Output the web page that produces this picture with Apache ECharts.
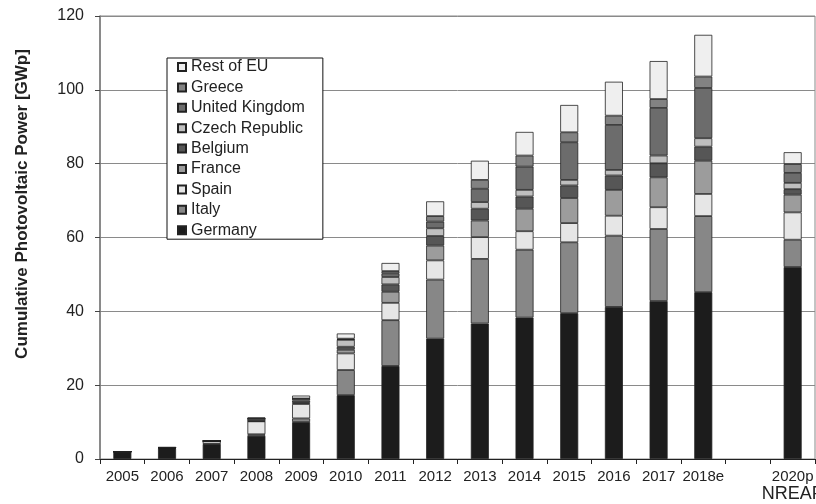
<!DOCTYPE html>
<html>
<head>
<meta charset="utf-8">
<script src="https://cdn.jsdelivr.net/npm/echarts@6/dist/echarts.min.js"></script>
<style>html,body{margin:0;padding:0;background:#fff;overflow:hidden}#c{width:816px;height:504px}</style>
</head>
<body>
<div id="c"></div>
<script>
const categories = ['2005','2006','2007','2008','2009','2010','2011','2012','2013','2014','2015','2016','2017','2018e','','2020p NREAP'];
const germany = [1.9, 2.9, 4.0, 6.3, 10.0, 17.3, 25.2, 32.6, 36.7, 38.3, 39.5, 41.2, 42.8, 45.2, null, 52.0];
const italy   = [0.05, 0.05, 0.1, 0.4, 1.0, 6.8, 12.4, 16.0, 17.5, 18.4, 19.2, 19.3, 19.5, 20.6, null, 7.4];
const spain   = [0.05, 0.15, 0.7, 3.5, 3.9, 4.5, 4.7, 5.2, 5.9, 5.0, 5.2, 5.4, 5.9, 6.0, null, 7.4];
const france  = [0, 0, 0.05, 0.1, 0.3, 1.0, 3.0, 4.0, 4.5, 6.1, 6.8, 7.0, 8.1, 9.0, null, 4.8];
const belgium = [0, 0, 0.02, 0.1, 0.6, 0.8, 2.0, 2.6, 3.2, 3.3, 3.4, 3.9, 3.8, 3.8, null, 1.5];
const czech   = [0, 0, 0.01, 0.5, 0.5, 1.9, 2.0, 2.1, 1.8, 1.8, 1.5, 1.5, 2.1, 2.3, null, 1.7];
const uk      = [0, 0, 0.01, 0.02, 0.03, 0.1, 1.0, 1.8, 3.6, 6.3, 10.2, 12.2, 12.9, 13.6, null, 2.7];
const greece  = [0, 0, 0.01, 0.05, 0.05, 0.2, 0.6, 1.5, 2.4, 3.0, 2.7, 2.5, 2.4, 3.1, null, 2.4];
const restEU  = [0.05, 0.1, 0.2, 0.3, 0.8, 1.4, 2.2, 4.0, 5.2, 6.4, 7.4, 9.2, 10.3, 11.3, null, 3.2];
const yTicks = [0, 20, 40, 60, 80, 100, 120];

const seriesDefs = [
  ['Germany', germany, '#1c1c1c'],
  ['Italy', italy, '#878787'],
  ['Spain', spain, '#e6e6e6'],
  ['France', france, '#9c9c9c'],
  ['Belgium', belgium, '#565656'],
  ['Czech Republic', czech, '#bfbfbf'],
  ['United Kingdom', uk, '#6c6c6c'],
  ['Greece', greece, '#828282'],
  ['Rest of EU', restEU, '#efefef']
];

const chart = echarts.init(document.getElementById('c'));
chart.setOption({
  animation: false,
  backgroundColor: '#fff',
  grid: { left: 100, right: 1, top: 16, bottom: 45, show: true, borderColor: '#888', borderWidth: 1,
          containLabel: false, outerBoundsMode: 'none' },
  legend: {
    orient: 'vertical', left: 167, top: 58,
    data: seriesDefs.map(s => s[0]).reverse(),
    backgroundColor: '#fff', borderColor: '#111', borderWidth: 1,
    padding: [1, 18, 1, 10],
    itemWidth: 8, itemHeight: 8, itemGap: 4.4,
    icon: 'rect',
    textStyle: { fontFamily: 'Liberation Sans, Arial', fontSize: 16, color: '#222', lineHeight: 16 }
  },
  xAxis: {
    type: 'category', data: categories,
    axisLine: { lineStyle: { color: '#222', width: 1.2 } },
    axisTick: { show: true, inside: false, length: 5, interval: 0, lineStyle: { color: '#222' } },
    axisLabel: {
      interval: 0, margin: 10, color: '#222', fontFamily: 'Liberation Sans, Arial', fontSize: 15,
      hideOverlap: false,
      formatter: v => v.indexOf('NREAP') >= 0 ? v.split(' ')[0] + '\n{b|' + v.split(' ')[1] + '}' : v,
      rich: { b: { fontSize: 18, fontFamily: 'Liberation Sans, Arial', color: '#222', lineHeight: 20, padding: [1, 0, 0, 0] } }
    }
  },
  yAxis: {
    type: 'value', min: yTicks[0], max: yTicks[yTicks.length - 1], interval: 20,
    axisLine: { show: true, lineStyle: { color: '#777', width: 1.5 } },
    axisTick: { show: true, inside: false, length: 5, lineStyle: { color: '#444' } },
    axisLabel: { margin: 16, color: '#222', fontFamily: 'Liberation Sans, Arial', fontSize: 16 },
    splitLine: { show: true, lineStyle: { color: '#8a8a8a', width: 1 } }
  },
  graphic: [{
    type: 'text', x: 22, y: 204, rotation: Math.PI / 2,
    style: { text: 'Cumulative Photovoltaic Power [GWp]', fill: '#222', font: 'bold 17px "Liberation Sans", Arial',
             align: 'center', verticalAlign: 'middle' }
  }],
  series: seriesDefs.map(([name, data, color]) => ({
    name, type: 'bar', stack: 'total', data, barWidth: 18,
    itemStyle: { color, borderColor: '#222', borderWidth: 0.8 }
  }))
});
</script>
</body>
</html>
